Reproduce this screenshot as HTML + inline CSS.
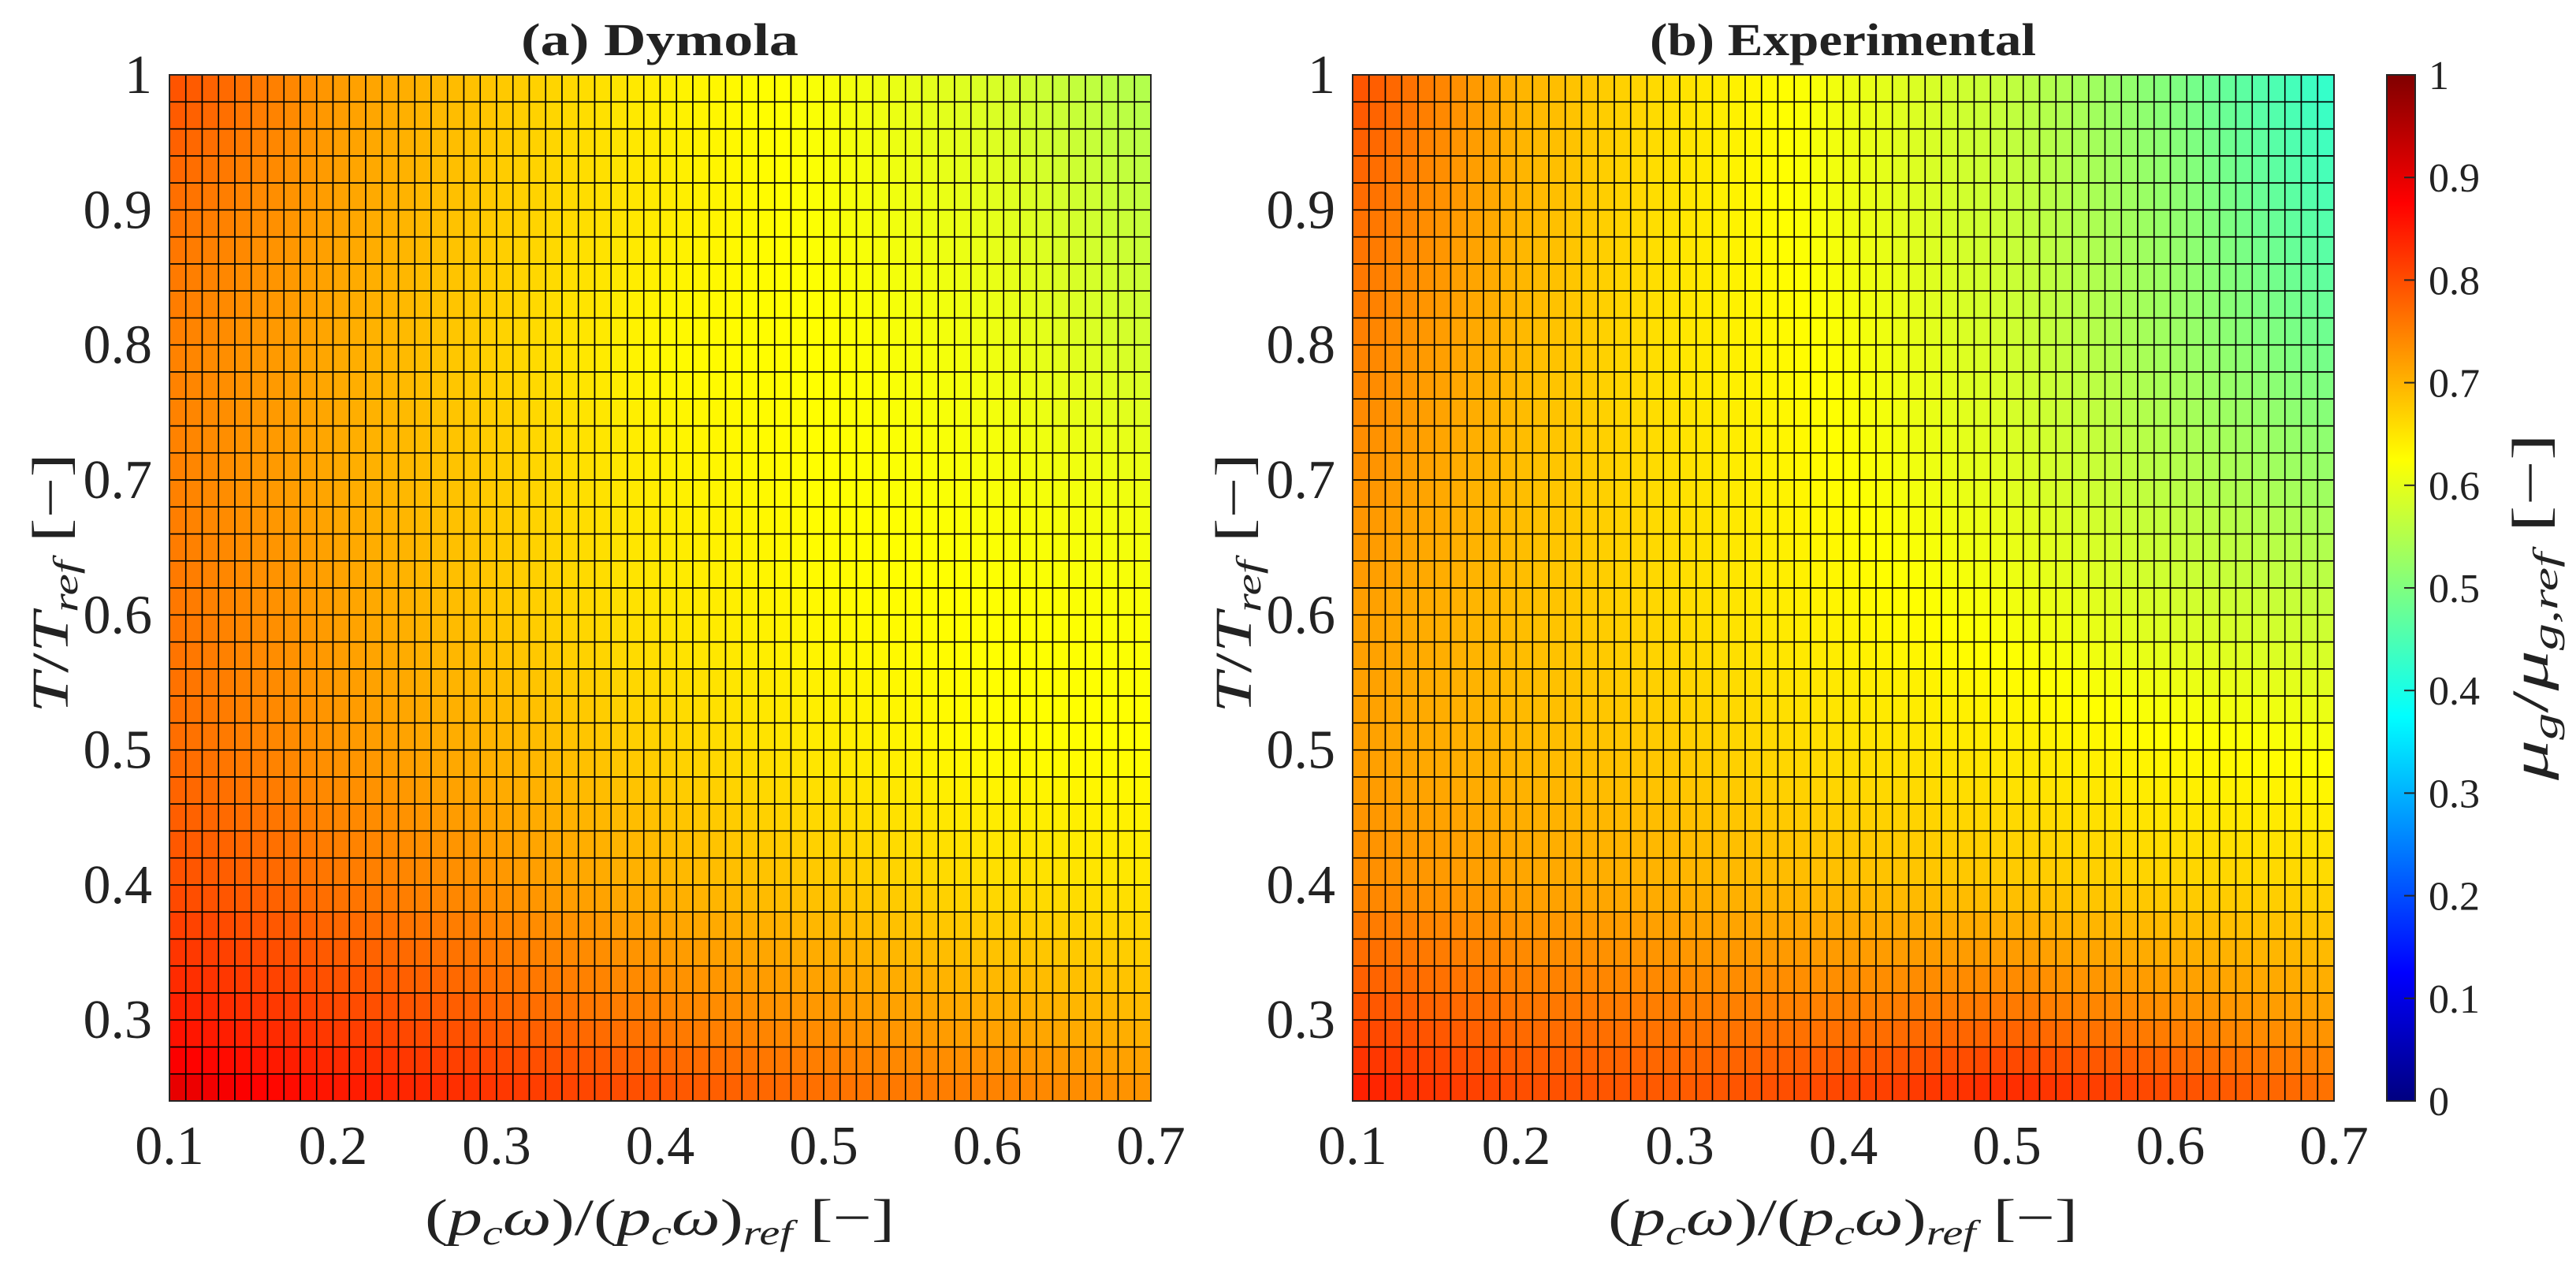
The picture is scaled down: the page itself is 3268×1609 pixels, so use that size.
<!DOCTYPE html>
<html>
<head>
<meta charset="utf-8">
<style>
  html,body{margin:0;padding:0;background:#fff;}
  svg{display:block;}
  text{font-family:"Liberation Serif",serif;fill:#222;}
</style>
</head>
<body>
<svg id="fig" width="3268" height="1609" viewBox="0 0 3268 1609" xmlns="http://www.w3.org/2000/svg">
  <defs>
    <linearGradient id="jet" x1="0" y1="1" x2="0" y2="0">
      <stop offset="0" stop-color="#000080"/>
      <stop offset="0.125" stop-color="#0000ff"/>
      <stop offset="0.375" stop-color="#00ffff"/>
      <stop offset="0.625" stop-color="#ffff00"/>
      <stop offset="0.875" stop-color="#ff0000"/>
      <stop offset="1" stop-color="#800000"/>
    </linearGradient>
  </defs>
  <g id="panelA"></g>
  <g id="panelB"></g>

  <text x="837" y="70" text-anchor="middle" font-weight="bold" font-size="58" textLength="352" lengthAdjust="spacingAndGlyphs">(a) Dymola</text>
  <text x="2338" y="70" text-anchor="middle" font-weight="bold" font-size="58" textLength="490" lengthAdjust="spacingAndGlyphs">(b) Experimental</text>

  <text x="837" y="1567" text-anchor="middle" font-size="66" textLength="596" lengthAdjust="spacingAndGlyphs">(<tspan font-style="italic">p</tspan><tspan font-style="italic" font-size="44" dy="12">c</tspan><tspan font-style="italic" dy="-12">ω</tspan>)/(<tspan font-style="italic">p</tspan><tspan font-style="italic" font-size="44" dy="12">c</tspan><tspan font-style="italic" dy="-12">ω</tspan>)<tspan font-style="italic" font-size="44" dy="12">ref</tspan><tspan dy="-12"> [−]</tspan></text>
  <text x="2338" y="1567" text-anchor="middle" font-size="66" textLength="596" lengthAdjust="spacingAndGlyphs">(<tspan font-style="italic">p</tspan><tspan font-style="italic" font-size="44" dy="12">c</tspan><tspan font-style="italic" dy="-12">ω</tspan>)/(<tspan font-style="italic">p</tspan><tspan font-style="italic" font-size="44" dy="12">c</tspan><tspan font-style="italic" dy="-12">ω</tspan>)<tspan font-style="italic" font-size="44" dy="12">ref</tspan><tspan dy="-12"> [−]</tspan></text>

  <text transform="translate(86,740) rotate(-90)" text-anchor="middle" font-size="66" textLength="330" lengthAdjust="spacingAndGlyphs"><tspan font-style="italic">T</tspan>/<tspan font-style="italic">T</tspan><tspan font-style="italic" font-size="44" dy="12">ref</tspan><tspan dy="-12"> [−]</tspan></text>
  <text transform="translate(1587,740) rotate(-90)" text-anchor="middle" font-size="66" textLength="330" lengthAdjust="spacingAndGlyphs"><tspan font-style="italic">T</tspan>/<tspan font-style="italic">T</tspan><tspan font-style="italic" font-size="44" dy="12">ref</tspan><tspan dy="-12"> [−]</tspan></text>

  <g id="cbar">
    <rect x="3028" y="95" width="36" height="1302" fill="url(#jet)" stroke="#262626" stroke-width="2"/>
  </g>
  <text transform="translate(3232,770) rotate(-90)" text-anchor="middle" font-size="66" textLength="440" lengthAdjust="spacingAndGlyphs"><tspan font-style="italic">μ</tspan><tspan font-style="italic" font-size="44" dy="12">g</tspan><tspan dy="-12">/</tspan><tspan font-style="italic">μ</tspan><tspan font-style="italic" font-size="44" dy="12">g,ref</tspan><tspan dy="-12"> [−]</tspan></text>
</svg>
<script>
// ---- data (coarse node grid) ----
const xNodes = [0.1, 0.2, 0.3, 0.4, 0.5, 0.6, 0.7];
const yNodes = [1.0, 0.9, 0.8, 0.7, 0.6, 0.5, 0.4, 0.3, 0.24];
const dymolaValues = [
  [0.80, 0.725, 0.68, 0.64, 0.618, 0.587, 0.547],
  [0.765, 0.718, 0.675, 0.645, 0.62, 0.60, 0.565],
  [0.75, 0.71, 0.67, 0.63, 0.625, 0.61, 0.58],
  [0.75, 0.71, 0.675, 0.64, 0.625, 0.618, 0.607],
  [0.76, 0.72, 0.68, 0.65, 0.63, 0.625, 0.62],
  [0.77, 0.73, 0.70, 0.67, 0.645, 0.627, 0.625],
  [0.80, 0.76, 0.73, 0.70, 0.68, 0.66, 0.65],
  [0.85, 0.81, 0.78, 0.75, 0.73, 0.71, 0.695],
  [0.91, 0.86, 0.83, 0.80, 0.77, 0.755, 0.735]
];
const experimentalValues = [
  [0.80, 0.70, 0.655, 0.61, 0.565, 0.50, 0.42],
  [0.77, 0.70, 0.65, 0.61, 0.57, 0.52, 0.45],
  [0.75, 0.695, 0.65, 0.62, 0.58, 0.53, 0.485],
  [0.735, 0.69, 0.655, 0.625, 0.595, 0.555, 0.525],
  [0.72, 0.69, 0.66, 0.635, 0.615, 0.585, 0.57],
  [0.72, 0.695, 0.675, 0.655, 0.645, 0.63, 0.62],
  [0.74, 0.715, 0.70, 0.69, 0.68, 0.67, 0.665],
  [0.80, 0.765, 0.755, 0.755, 0.765, 0.74, 0.72],
  [0.855, 0.805, 0.79, 0.815, 0.845, 0.81, 0.77]
];
const xTicks = [0.1, 0.2, 0.3, 0.4, 0.5, 0.6, 0.7];
const xTickLabels = ["0.1", "0.2", "0.3", "0.4", "0.5", "0.6", "0.7"];
const yTicks = [0.3, 0.4, 0.5, 0.6, 0.7, 0.8, 0.9, 1.0];
const yTickLabels = ["0.3", "0.4", "0.5", "0.6", "0.7", "0.8", "0.9", "1"];
const cbTicks = [0, 0.1, 0.2, 0.3, 0.4, 0.5, 0.6, 0.7, 0.8, 0.9, 1];
const cbTickLabels = ["0", "0.1", "0.2", "0.3", "0.4", "0.5", "0.6", "0.7", "0.8", "0.9", "1"];
const xMin = 0.1, xMax = 0.7, xStep = 0.01;
const yMin = 0.24, yMax = 1.0, yStep = 0.02;

const NS = "http://www.w3.org/2000/svg";
const plotTop = 95, plotBottom = 1397;

function jet(v){
  v = Math.max(0, Math.min(1, v));
  const c = t => Math.round(255*Math.max(0, Math.min(1, t)));
  return "rgb(" + c(1.5-Math.abs(4*v-3)) + "," + c(1.5-Math.abs(4*v-2)) + "," + c(1.5-Math.abs(4*v-1)) + ")";
}
function seg(arr, v){
  for (let i = 0; i < arr.length-1; i++){
    const a = arr[i], b = arr[i+1];
    if ((v-a)*(v-b) <= 0) return [i, (v-a)/(b-a)];
  }
  const asc = arr[0] < arr[1];
  if ((v < arr[0]) === asc) return [0, 0];
  return [arr.length-2, 1];
}
function sample(grid, x, y){
  const si = seg(xNodes, x), sj = seg(yNodes, y);
  const i = si[0], tx = si[1], j = sj[0], ty = sj[1];
  const a = grid[j][i]*(1-tx) + grid[j][i+1]*tx;
  const b = grid[j+1][i]*(1-tx) + grid[j+1][i+1]*tx;
  return a*(1-ty) + b*ty;
}

function drawPanel(gid, left, right, grid){
  const g = document.getElementById(gid);
  const sx = v => left + (v - xMin)/(xMax - xMin)*(right-left);
  const sy = v => plotBottom - (v - yMin)/(yMax - yMin)*(plotBottom-plotTop);
  const nx = Math.round((xMax-xMin)/xStep), ny = Math.round((yMax-yMin)/yStep);
  for (let j = 0; j < ny; j++){
    for (let i = 0; i < nx; i++){
      const x0 = xMin + i*xStep, y0 = yMin + j*yStep;
      const v = sample(grid, x0 + xStep/2, y0 + yStep/2);
      const r = document.createElementNS(NS, "rect");
      
      
      r.setAttribute("x", sx(x0));
      r.setAttribute("y", sy(y0 + yStep));
      r.setAttribute("width", sx(x0+xStep) - sx(x0));
      r.setAttribute("height", sy(y0) - sy(y0+yStep));
      r.setAttribute("fill", jet(v));
      r.setAttribute("stroke", "#000");
      r.setAttribute("stroke-width", "1.6");
      g.appendChild(r);
    }
  }
  const frame = document.createElementNS(NS, "rect");
  
  
  frame.setAttribute("x", left); frame.setAttribute("y", plotTop);
  frame.setAttribute("width", right-left); frame.setAttribute("height", plotBottom-plotTop);
  frame.setAttribute("fill", "none"); frame.setAttribute("stroke", "#262626"); frame.setAttribute("stroke-width", "2");
  g.appendChild(frame);
  xTicks.forEach((t, k) => {
    const tx = document.createElementNS(NS, "text");
    
    
    tx.setAttribute("x", sx(t)); tx.setAttribute("y", 1477);
    tx.setAttribute("text-anchor", "middle"); tx.setAttribute("font-size", "70");
    tx.textContent = xTickLabels[k];
    g.appendChild(tx);
  });
  yTicks.forEach((t, k) => {
    const tx = document.createElementNS(NS, "text");
    
    
    tx.setAttribute("x", left - 22); tx.setAttribute("y", sy(t) + 23);
    tx.setAttribute("text-anchor", "end"); tx.setAttribute("font-size", "70");
    tx.textContent = yTickLabels[k];
    g.appendChild(tx);
  });
}
drawPanel("panelA", 215, 1460, dymolaValues);
drawPanel("panelB", 1716, 2961, experimentalValues);

const cb = document.getElementById("cbar");
const cy = v => 1397 - v*(1397-95);
cbTicks.forEach((t, k) => {
  if (t > 0 && t < 1){
    const l = document.createElementNS(NS, "line");
    
    
    l.setAttribute("x1", 3050); l.setAttribute("x2", 3064);
    l.setAttribute("y1", cy(t)); l.setAttribute("y2", cy(t));
    l.setAttribute("stroke", "#262626"); l.setAttribute("stroke-width", "2");
    cb.appendChild(l);
  }
  const tx = document.createElementNS(NS, "text");
  
  
  tx.setAttribute("x", 3081); tx.setAttribute("y", cy(t) + 18);
  tx.setAttribute("font-size", "52");
  tx.textContent = cbTickLabels[k];
  cb.appendChild(tx);
});
</script>
</body>
</html>
